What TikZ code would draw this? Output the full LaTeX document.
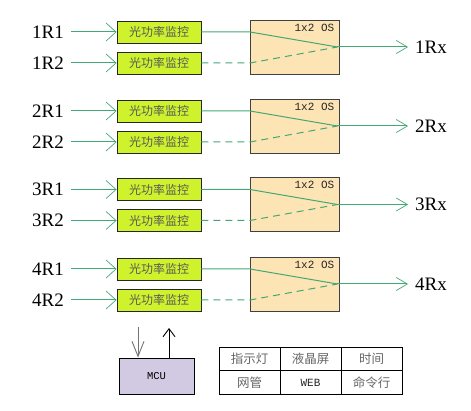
\documentclass[tikz,border=0pt]{standalone}
\usepackage{fontspec}
\setmainfont{Liberation Serif}
\newfontfamily\cjk{Noto Sans CJK SC}
\newfontfamily\mono{Liberation Mono}
\usetikzlibrary{arrows.meta,calc}
\definecolor{monfill}{RGB}{206,242,44}
\definecolor{osfill}{RGB}{253,228,180}
\definecolor{mcufill}{RGB}{210,202,226}
\definecolor{lgreen}{RGB}{68,168,118}
\begin{document}
\begin{tikzpicture}[x=1pt,y=-1pt,
  mon/.style={draw=black!85, line width=0.9pt, fill=monfill, minimum width=84pt, minimum height=22pt, inner sep=0pt, font=\cjk\fontsize{12}{12}\selectfont, text=black!65},
  osbox/.style={draw=black!75, line width=0.9pt, fill=osfill, minimum width=88.5pt, minimum height=54pt, inner sep=0pt},
  lbl/.style={font=\fontsize{19}{19}\selectfont, inner sep=0pt},
  ostxt/.style={font=\mono\fontsize{11}{11}\selectfont, inner sep=0pt, text=black!85},
  gline/.style={draw=lgreen, line width=1pt},
  inarr/.style={gline, -{Straight Barb[length=10pt,width=18pt,line width=0.7pt]}},
  outarr/.style={gline, -{Straight Barb[length=11pt,width=13pt,line width=0.7pt]}},
  dline/.style={gline, dash pattern=on 7pt off 5pt},
  cell/.style={draw=black, line width=0.8pt, minimum width=61pt, minimum height=23.5pt, inner sep=0pt, font=\cjk\fontsize{12.5}{12.5}\selectfont, text=black!60},
  ]
\useasboundingbox (0,0) rectangle (471,411);
\foreach \g/\b in {1/47,2/126,3/204.5,4/284}{
  \node[lbl, anchor=east] (L\g a) at (64,\b-15) {\g R1};
  \node[lbl, anchor=east] (L\g b) at (64,\b+16) {\g R2};
  \coordinate (S\g a) at (71,\b-15);
  \coordinate (S\g b) at (71,\b+16);
  \node[mon] (M\g a) at (159,\b-15) {光功率监控};
  \node[mon] (M\g b) at (159,\b+16) {光功率监控};
  \node[osbox] (O\g) at (294.75,\b) {};
  \node[ostxt, anchor=north east] (T\g) at ($(O\g.north east)+(-5,4)$) {1x2 OS};
  \coordinate (J\g) at ($(O\g.east)+(-2,0)$);
  \coordinate (E\g) at (408,\b);
  \node[lbl, anchor=west] (R\g) at (415,\b) {\g Rx};
  \draw[inarr] (S\g a) -- (M\g a.west);
  \draw[inarr] (S\g b) -- (M\g b.west);
  \draw[gline] (M\g a.east) -- (O\g.west |- M\g a) -- (J\g);
  \draw[dline] (M\g b.east) -- (O\g.west |- M\g b) -- (J\g);
  \draw[outarr] (J\g) -- (E\g);
}
\node[draw=black, line width=0.9pt, fill=mcufill, minimum width=75pt, minimum height=36pt, inner sep=0pt, font=\mono\fontsize{10.5}{10.5}\selectfont] (mcu) at (156.5,376) {MCU};
\coordinate (dtop) at (138,327);
\coordinate (utop) at (169,328);
\draw[draw=black!55, line width=1pt, -{Straight Barb[length=15pt,width=12pt,line width=0.9pt]}] (dtop) -- (mcu.north -| dtop);
\draw[draw=black, line width=1pt, -{Straight Barb[length=8pt,width=12pt,line width=0.9pt]}] (mcu.north -| utop) -- (utop);
\node[cell] (c11) at (249.5,359) {指示灯};
\node[cell] (c12) at (310.5,359) {液晶屏};
\node[cell] (c13) at (371.5,359) {时间};
\node[cell] (c21) at (249.5,382.5) {网管};
\node[cell, font=\mono\fontsize{11}{11}\selectfont, text=black!85] (c22) at (310.5,382.5) {WEB};
\node[cell] (c23) at (371.5,382.5) {命令行};
\end{tikzpicture}
\end{document}
